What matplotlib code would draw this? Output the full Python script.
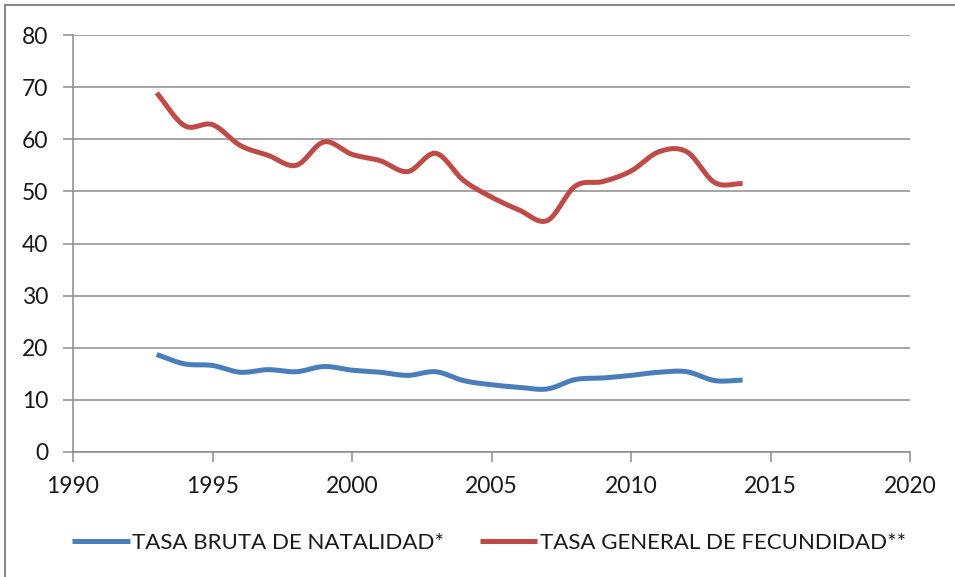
import numpy as np
import matplotlib
matplotlib.use("Agg")
import matplotlib.pyplot as plt
from matplotlib.patches import Rectangle

years = list(range(1993, 2015))
natalidad = [18.7, 16.9, 16.6, 15.3, 15.8, 15.4, 16.4, 15.7, 15.3, 14.7, 15.4,
             13.7, 12.9, 12.4, 12.1, 13.9, 14.2, 14.7, 15.3, 15.4, 13.7, 13.8]
fecundidad = [68.9, 62.6, 62.8, 58.8, 56.9, 55.0, 59.5, 57.1, 55.9, 53.8, 57.3,
              52.1, 48.9, 46.4, 44.4, 51.0, 51.9, 53.9, 57.6, 57.6, 51.7, 51.5]
labels = ["TASA BRUTA DE NATALIDAD*", "TASA GENERAL DE FECUNDIDAD**"]
colors = ["#4A7EBB", "#BE4B48"]
x_ticks = [1990, 1995, 2000, 2005, 2010, 2015, 2020]
y_ticks = [0, 10, 20, 30, 40, 50, 60, 70, 80]


def smooth(xs, ys, n=30):
    xs = np.asarray(xs, float)
    ys = np.asarray(ys, float)
    px = np.concatenate([[2 * xs[0] - xs[1]], xs, [2 * xs[-1] - xs[-2]]])
    py = np.concatenate([[2 * ys[0] - ys[1]], ys, [2 * ys[-1] - ys[-2]]])
    ox, oy = [], []
    t = np.linspace(0, 1, n, endpoint=False)
    for i in range(1, len(px) - 2):
        p0, p1, p2, p3 = py[i - 1], py[i], py[i + 1], py[i + 2]
        q0, q1, q2, q3 = px[i - 1], px[i], px[i + 1], px[i + 2]
        c1y = p1 + (p2 - p0) / 6
        c2y = p2 - (p3 - p1) / 6
        c1x = q1 + (q2 - q0) / 6
        c2x = q2 - (q3 - q1) / 6
        b = lambda a, c, d, e: ((1 - t) ** 3) * a + 3 * ((1 - t) ** 2) * t * c + 3 * (1 - t) * t ** 2 * d + t ** 3 * e
        ox.append(b(q1, c1x, c2x, q2))
        oy.append(b(p1, c1y, c2y, p2))
    ox.append([xs[-1]])
    oy.append([ys[-1]])
    return np.concatenate(ox), np.concatenate(oy)


FONT = ["Lato", "DejaVu Sans"]

fig = plt.figure(figsize=(9.55, 5.77), dpi=100)
fig.patches.append(Rectangle((5 / 955, -0.1), 1.2, 1 - 5 / 577 + 0.1, transform=fig.transFigure,
                             fill=False, edgecolor="#8a8a8a", linewidth=1.5))
ax = fig.add_axes([73 / 955, 1 - 452 / 577, (910 - 73) / 955, (452 - 35) / 577])

for vals, lab, col in zip([natalidad, fecundidad], labels, colors):
    sx, sy = smooth(years, vals)
    ax.plot(sx, sy, color=col, linewidth=3.6, label=lab, solid_capstyle="butt")

ax.set_xlim(1990, 2020)
ax.set_ylim(0, 80)
ax.set_xticks(x_ticks)
ax.set_yticks(y_ticks)
ax.yaxis.grid(True, color="#8c8c8c", linewidth=1.1)
ax.set_axisbelow(True)
for s in ["top", "right"]:
    ax.spines[s].set_visible(False)
for s in ["left", "bottom"]:
    ax.spines[s].set_color("#8c8c8c")
    ax.spines[s].set_linewidth(1.1)
ax.tick_params(axis="both", colors="#8c8c8c", length=7, width=1.1, labelcolor="#1a1a1a",
               labelsize=16.5)
ax.tick_params(axis="x", pad=10)
ax.tick_params(axis="y", pad=11)
for lbl in ax.get_xticklabels() + ax.get_yticklabels():
    lbl.set_family(FONT)

leg = fig.legend(loc="center", bbox_to_anchor=(0.512, 1 - 543 / 577), ncol=2, frameon=False,
                 prop={"family": FONT, "size": 16},
                 handlelength=2.6, handletextpad=0.1, columnspacing=1.6)
for t in leg.get_texts():
    t.set_color("#1a1a1a")

fig.savefig("out.png", dpi=100)
